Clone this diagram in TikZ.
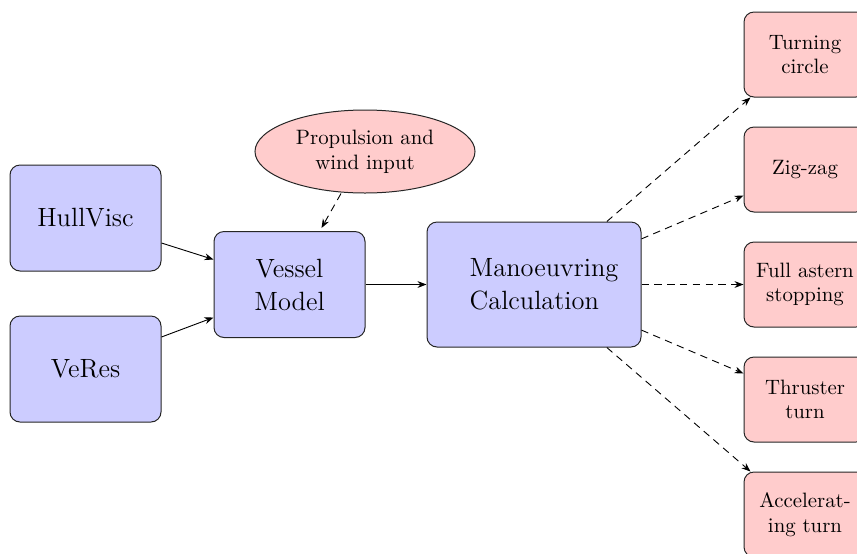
\documentclass[tikz,border=0pt]{standalone}
\usetikzlibrary{shapes.geometric,arrows.meta}
\begin{document}
\begin{tikzpicture}[x=0.5pt,y=-0.5pt,
  blk/.style={draw=black!85, line width=0.5pt, rounded corners=5pt, fill=blue!20,
    minimum width=75.5pt, minimum height=53pt, inner sep=0pt, align=center,
    font=\fontsize{13.2}{16.5}\selectfont},
  outbox/.style={draw=black!85, line width=0.5pt, rounded corners=5pt, fill=red!20,
    minimum width=61pt, minimum height=42.5pt, inner sep=0pt, align=center,
    font=\fontsize{10.4}{12.3}\selectfont},
  arr/.style={-{Stealth[length=4.5pt,width=3.4pt]}, line width=0.45pt},
  dsh/.style={arr, dash pattern=on 3.7pt off 2.7pt}]
\useasboundingbox (0,0) rectangle (857,553);
\clip (0,0) rectangle (857,553);

\node[blk] (hull) at (85.5,218) {HullVisc};
\node[blk] (veres) at (85.5,369) {VeRes};
\node[blk] (vessel) at (289.5,284.5) {Vessel\\Model};
\node[blk, minimum width=107pt, minimum height=62.5pt] (man) at (534,284.5) {};
\node[inner sep=0pt, align=left, font=\fontsize{13.2}{16.5}\selectfont] (mantext) at (544,284.5) {Manoeuvring\\Calculation};
\node[ellipse, draw=black!85, line width=0.5pt, fill=red!20, minimum width=110pt, minimum height=41.5pt,
  inner sep=0pt, align=center, font=\fontsize{10.4}{12.3}\selectfont] (prop) at (365,151.5) {Propulsion and\\wind input};

\node[outbox] (turn) at (805,54.5) {Turning\\circle};
\node[outbox] (zig) at (805,169.5) {Zig-zag};
\node[outbox] (full) at (805,284.5) {Full astern\\stopping};
\node[outbox] (thr) at (805,399.5) {Thruster\\turn};
\node[outbox] (acc) at (805,514.5) {Accelerat-\\ing turn};

\draw[arr] ([yshift=-12.5pt]hull.east) -- ([yshift=12.5pt]vessel.west);
\draw[arr] ([yshift=16pt]veres.east) -- ([yshift=-16.5pt]vessel.west);
\draw[arr] (vessel.east) -- (man.west);
\draw[dsh] ([xshift=-12pt]prop.south) -- ([xshift=16pt,yshift=1.5pt]vessel.north);

\draw[dsh] (man) -- ([xshift=3.5pt]turn.south west);
\draw[dsh] (man) -- ([yshift=-13pt]zig.west);
\draw[dsh] (man) -- (full.west);
\draw[dsh] (man) -- ([yshift=13pt]thr.west);
\draw[dsh] (man) -- ([xshift=3.5pt]acc.north west);
\end{tikzpicture}
\end{document}
